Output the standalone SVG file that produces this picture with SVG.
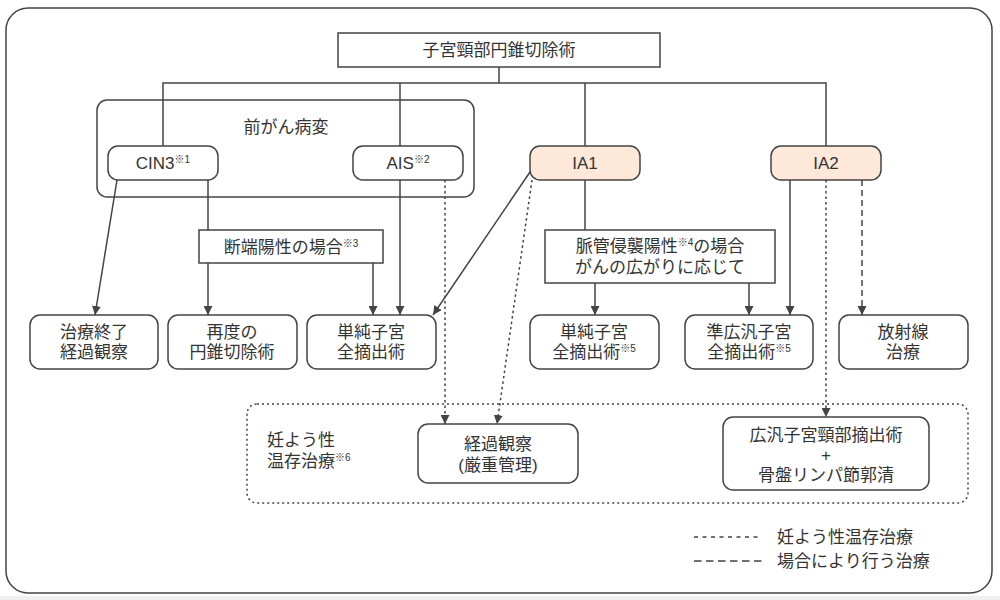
<svg xmlns="http://www.w3.org/2000/svg" width="1000" height="600" viewBox="0 0 1000 600">
<defs>
<style>
text{font-family:"Liberation Sans","Noto Sans CJK JP",sans-serif;font-size:17px;fill:#333;text-anchor:middle}
.sup{font-size:10px}
.lbl{text-anchor:start}
.box{fill:#fff;stroke:#444;stroke-width:1.5}
.ia{fill:#fde8da;stroke:#444;stroke-width:1.5}
.ln{fill:none;stroke:#444;stroke-width:1.5}
.dot{stroke-dasharray:2.5 3}
.dash{stroke-dasharray:6 4}
.arr{marker-end:url(#ah)}
</style>
<marker id="ah" viewBox="0 0 10 10" refX="10" refY="5" markerWidth="9" markerHeight="9" markerUnits="userSpaceOnUse" orient="auto">
<path d="M0,0 L10,5 L0,10 z" fill="#444"/>
</marker>
</defs>
<rect width="1000" height="600" fill="#fff"/>
<rect x="0" y="596" width="1000" height="4" fill="#f0f0f0"/>
<rect x="6" y="8" width="986" height="585" rx="22" fill="#fff" stroke="#444" stroke-width="1.5"/>

<g id="fertility-region">
<rect x="247" y="404" width="721" height="99" rx="10" fill="none" stroke="#444" stroke-width="1.5" stroke-dasharray="2 3"/>
<text class="lbl" x="267" y="446">妊よう性<tspan x="267" dy="21">温存治療</tspan><tspan class="sup" dy="-6">※6</tspan></text>
</g>

<g id="precancer-group">
<rect x="97" y="100" width="377" height="97" rx="10" fill="none" stroke="#444" stroke-width="1.5"/>
<text x="286" y="133">前がん病変</text>
</g>

<g id="connectors">
<polyline class="ln" points="499,67 499,83"/>
<polyline class="ln" points="163,146 163,83 826,83 826,146"/>
<line class="ln" x1="400" y1="83" x2="400" y2="146"/>
<line class="ln" x1="585" y1="83" x2="585" y2="146"/>
<line class="ln arr" x1="117" y1="180" x2="95" y2="315"/>
<line class="ln" x1="208" y1="180" x2="208" y2="230"/>
<line class="ln arr" x1="208" y1="263" x2="208" y2="315"/>
<line class="ln arr" x1="373" y1="263" x2="373" y2="315"/>
<line class="ln arr" x1="400" y1="180" x2="400" y2="315"/>
<line class="ln dot arr" x1="445" y1="180" x2="445" y2="424"/>
<line class="ln arr" x1="530" y1="172" x2="433" y2="315"/>
<line class="ln dot arr" x1="532" y1="180" x2="497" y2="424"/>
<line class="ln" x1="585" y1="180" x2="585" y2="230"/>
<line class="ln arr" x1="595" y1="283" x2="595" y2="315"/>
<line class="ln arr" x1="749" y1="283" x2="749" y2="315"/>
<line class="ln arr" x1="790" y1="180" x2="790" y2="315"/>
<line class="ln dot arr" x1="826" y1="180" x2="826" y2="417"/>
<line class="ln dash arr" x1="862" y1="180" x2="862" y2="315"/>
</g>

<g id="conization">
<rect x="338" y="33" width="322" height="34" class="box"/>
<text x="499" y="56">子宮頸部円錐切除術</text>
</g>
<g id="cin3">
<rect x="108" y="146" width="110" height="34" rx="10" class="box"/>
<text x="163" y="169">CIN3<tspan class="sup" dy="-6">※1</tspan></text>
</g>
<g id="ais">
<rect x="353" y="146" width="110" height="34" rx="10" class="box"/>
<text x="408" y="169">AIS<tspan class="sup" dy="-6">※2</tspan></text>
</g>
<g id="ia1">
<rect x="530" y="146" width="110" height="34" rx="10" class="ia"/>
<text x="585" y="169">IA1</text>
</g>
<g id="ia2">
<rect x="771" y="146" width="110" height="34" rx="10" class="ia"/>
<text x="826" y="169">IA2</text>
</g>
<g id="margin-positive">
<rect x="199" y="230" width="184" height="33" class="box"/>
<text x="291" y="253">断端陽性の場合<tspan class="sup" dy="-6">※3</tspan></text>
</g>
<g id="lvsi-positive">
<rect x="545" y="230" width="230" height="53" class="box"/>
<text x="660" y="252">脈管侵襲陽性<tspan class="sup" dy="-6">※4</tspan><tspan dy="6">の場合</tspan><tspan x="660" dy="21">がんの広がりに応じて</tspan></text>
</g>
<g id="end-followup">
<rect x="30" y="315" width="128" height="54" rx="10" class="box"/>
<text x="94" y="338">治療終了<tspan x="94" dy="20">経過観察</tspan></text>
</g>
<g id="reconization">
<rect x="168" y="315" width="129" height="54" rx="10" class="box"/>
<text x="232" y="338">再度の<tspan x="232" dy="20">円錐切除術</tspan></text>
</g>
<g id="simple-hyst-1">
<rect x="307" y="315" width="129" height="54" rx="10" class="box"/>
<text x="371" y="338">単純子宮<tspan x="371" dy="20">全摘出術</tspan></text>
</g>
<g id="simple-hyst-2">
<rect x="530" y="315" width="129" height="54" rx="10" class="box"/>
<text x="594" y="338">単純子宮<tspan x="594" dy="20">全摘出術</tspan><tspan class="sup" dy="-6">※5</tspan></text>
</g>
<g id="modified-radical">
<rect x="685" y="315" width="128" height="54" rx="10" class="box"/>
<text x="749" y="338">準広汎子宮<tspan x="749" dy="20">全摘出術</tspan><tspan class="sup" dy="-6">※5</tspan></text>
</g>
<g id="radiation">
<rect x="839" y="315" width="129" height="54" rx="10" class="box"/>
<text x="903" y="338">放射線<tspan x="903" dy="20">治療</tspan></text>
</g>
<g id="close-followup">
<rect x="418" y="424" width="160" height="59" rx="10" class="box"/>
<text x="498" y="450">経過観察<tspan x="498" dy="21">(厳重管理)</tspan></text>
</g>
<g id="trachelectomy">
<rect x="723" y="417" width="206" height="73" rx="10" class="box"/>
<text x="826" y="441">広汎子宮頸部摘出術<tspan x="826" dy="20">+</tspan><tspan x="826" dy="20">骨盤リンパ節郭清</tspan></text>
</g>
<g id="legend">
<line class="ln" x1="694" y1="537" x2="760" y2="537" stroke-dasharray="4 4.5"/>
<text class="lbl" x="777" y="543">妊よう性温存治療</text>
<line class="ln" x1="694" y1="561" x2="765" y2="561" stroke-dasharray="7.5 4.5"/>
<text class="lbl" x="777" y="567">場合により行う治療</text>
</g>
</svg>
